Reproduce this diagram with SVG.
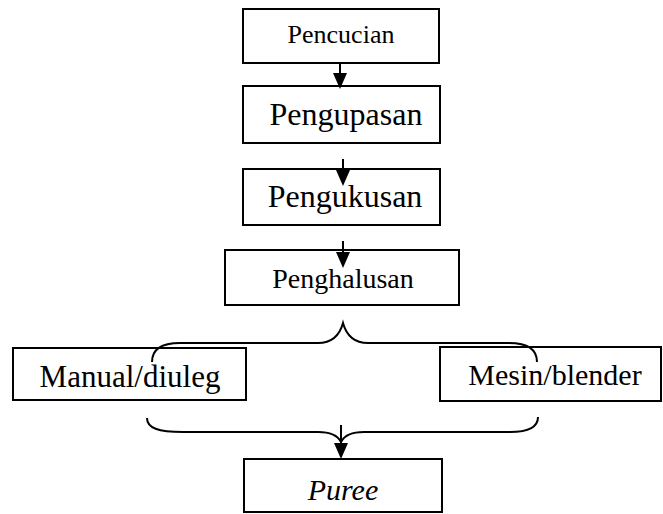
<svg xmlns="http://www.w3.org/2000/svg" width="663" height="514" viewBox="0 0 663 514">
<defs>
<style>
.box{fill:#fff;stroke:#000;stroke-width:2}
.t{font-family:"Liberation Serif","Times New Roman",serif;fill:#000;text-anchor:middle}
.ln{fill:none;stroke:#000;stroke-width:2}
.ah{fill:#000;stroke:none}
</style>
</defs>
<rect width="663" height="514" fill="#fff"/>
<g id="pencucian">
<rect class="box" x="243" y="9" width="196" height="54"/>
<text class="t" x="341" y="43" font-size="26">Pencucian</text>
</g>
<g id="pengupasan">
<rect class="box" x="243" y="86" width="197" height="57"/>
<text class="t" x="346" y="125" font-size="32">Pengupasan</text>
</g>
<g id="pengukusan">
<rect class="box" x="243" y="169" width="197" height="56"/>
<text class="t" x="345" y="207" font-size="32">Pengukusan</text>
</g>
<g id="penghalusan">
<rect class="box" x="225" y="250" width="234" height="55"/>
<text class="t" x="343" y="288" font-size="28">Penghalusan</text>
</g>
<g id="manual">
<rect class="box" x="13" y="348" width="233" height="52"/>
<text class="t" x="130" y="387" font-size="31">Manual/diuleg</text>
</g>
<g id="mesin">
<rect class="box" x="440" y="347" width="221" height="54"/>
<text class="t" x="555" y="385" font-size="30">Mesin/blender</text>
</g>
<g id="puree">
<rect class="box" x="244" y="459" width="198" height="53"/>
<text class="t" x="343" y="500" font-size="30" font-style="italic">Puree</text>
</g>
<g id="connectors">
<line class="ln" x1="340" y1="63" x2="340" y2="76"/>
<polygon class="ah" points="333,73 347,73 340,89"/>
<line class="ln" x1="343" y1="159" x2="343" y2="173"/>
<polygon class="ah" points="336,170 350,170 343,186"/>
<line class="ln" x1="343" y1="241" x2="343" y2="255"/>
<polygon class="ah" points="336,252 350,252 343,268"/>
<path class="ln" d="M152,362 C152,350 160,343 180,343 L318,343 C333,343 340,334 343,323 C346,334 353,343 368,343 L509,343 C529,343 537,350 537,362"/>
<path class="ln" d="M147,418 C147,428 158,432 183,432 L318,432 C332,432 338,436 341,442 C344,436 350,432 364,432 L510,432 C528,432 538,428 538,417"/>
<line class="ln" x1="341" y1="425" x2="341" y2="446"/>
<polygon class="ah" points="334,443 348,443 341,459"/>
</g>
</svg>
